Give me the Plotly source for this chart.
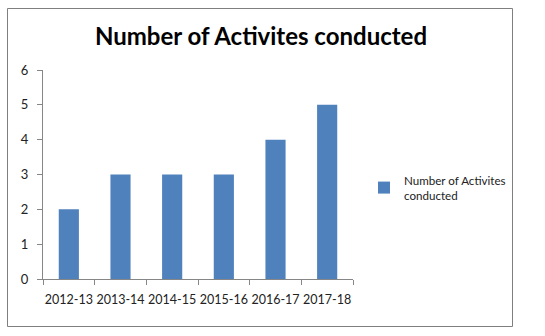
import plotly.graph_objects as go

years = ["2012-13", "2013-14", "2014-15", "2015-16", "2016-17", "2017-18"]
activities = [2, 3, 3, 3, 4, 5]
series_name = "Number of Activites<br>conducted"
title_text = "Number of Activites conducted"

FONT = "Lato, Carlito, Calibri, sans-serif"
AXIS_GREY = "#868686"

# plot area in pixels: left 43, right 353, top 70, bottom 279
L, R, T, B = 43, 192, 70, 57
W, H = 545, 336
pw, ph = W - L - R, H - T - B

def px_x(x):
    return (x - L) / pw

def px_y(y):
    return (H - B - y) / ph

fig = go.Figure(
    go.Bar(
        x=years,
        y=activities,
        name=series_name,
        marker=dict(color="#4F81BD", line=dict(width=0)),
        showlegend=True,
    )
)

fig.update_layout(
    width=W,
    height=H,
    margin=dict(l=L, r=R, t=T, b=B, pad=0, autoexpand=False),
    paper_bgcolor="white",
    plot_bgcolor="white",
    bargap=0.61,
    font=dict(family=FONT, size=13, color="#222222"),
    title=dict(
        text="<b>" + title_text + "</b>",
        x=261 / W,
        xanchor="center",
        y=1 - 37 / H,
        yanchor="middle",
        font=dict(family=FONT, size=24, color="black"),
    ),
    legend=dict(
        x=px_x(364),
        y=px_y(166),
        xanchor="left",
        yanchor="top",
        font=dict(family=FONT, size=11.6, color="#222222"),
        bgcolor="rgba(0,0,0,0)",
    ),
    showlegend=True,
)

fig.update_xaxes(
    showline=True,
    linecolor=AXIS_GREY,
    linewidth=1,
    ticks="outside",
    tickson="boundaries",
    ticklen=5,
    tickcolor=AXIS_GREY,
    tickangle=0,
    tickfont=dict(size=12.5),
    showgrid=False,
    automargin=False,
    ticklabelstandoff=9,
    fixedrange=True,
)
fig.update_yaxes(
    range=[0, 6],
    dtick=1,
    showline=True,
    linecolor=AXIS_GREY,
    linewidth=1,
    ticks="outside",
    ticklen=5,
    tickcolor=AXIS_GREY,
    showgrid=False,
    zeroline=False,
    automargin=False,
    ticklabelstandoff=6,
    fixedrange=True,
)

# chart frame
fig.add_shape(
    type="rect",
    xref="paper",
    yref="paper",
    x0=px_x(7.5),
    x1=px_x(512.5),
    y0=px_y(326.5),
    y1=px_y(8.5),
    line=dict(color="#7F7F7F", width=1),
    layer="below",
)

fig.write_html("out.html")
